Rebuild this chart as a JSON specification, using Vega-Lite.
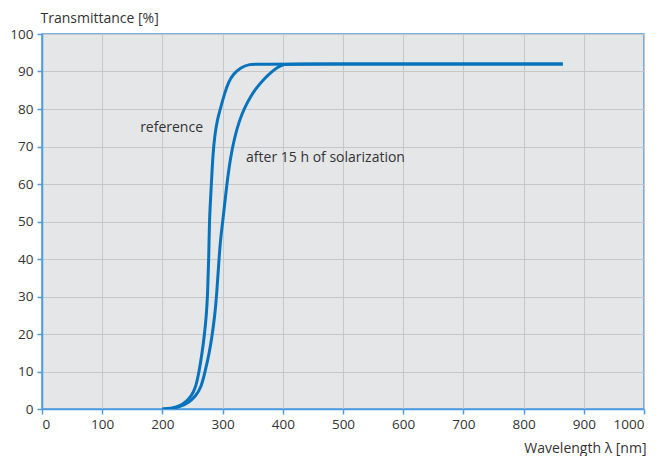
{
  "$schema": "https://vega.github.io/schema/vega-lite/v6.json",
  "width": 602,
  "height": 375,
  "autosize": {"type": "none"},
  "padding": {"left": 42, "top": 34, "right": 19, "bottom": 47},
  "background": "white",
  "config": {
    "view": {"stroke": "#4f9be0", "strokeWidth": 1.5, "fill": "#e5e6e8"},
    "font": "Open Sans",
    "axis": {
      "gridColor": "#c6c7c9",
      "gridWidth": 1,
      "domainColor": "#4f9be0",
      "domainWidth": 1.5,
      "tickColor": "#4f9be0",
      "tickWidth": 1.5,
      "tickSize": 5,
      "labelFont": "Open Sans",
      "labelFontSize": 13.5,
      "labelColor": "#333333",
      "labelOverlap": false,
      "titleFont": "Open Sans",
      "titleFontSize": 14,
      "titleFontWeight": "normal",
      "titleColor": "#333333"
    }
  },
  "datasets": {
    "curves": [
      {"series": "reference", "wavelength": 200, "t": 0},
      {"series": "reference", "wavelength": 215, "t": 0.1},
      {"series": "reference", "wavelength": 228, "t": 0.7},
      {"series": "reference", "wavelength": 240, "t": 2},
      {"series": "reference", "wavelength": 248, "t": 3.5},
      {"series": "reference", "wavelength": 255, "t": 5.5},
      {"series": "reference", "wavelength": 261, "t": 10},
      {"series": "reference", "wavelength": 266, "t": 15},
      {"series": "reference", "wavelength": 270, "t": 20},
      {"series": "reference", "wavelength": 273, "t": 25},
      {"series": "reference", "wavelength": 275, "t": 30},
      {"series": "reference", "wavelength": 277, "t": 40},
      {"series": "reference", "wavelength": 278, "t": 50},
      {"series": "reference", "wavelength": 280, "t": 56},
      {"series": "reference", "wavelength": 282, "t": 62},
      {"series": "reference", "wavelength": 284, "t": 68},
      {"series": "reference", "wavelength": 287, "t": 73},
      {"series": "reference", "wavelength": 291, "t": 77},
      {"series": "reference", "wavelength": 297, "t": 80.5},
      {"series": "reference", "wavelength": 303, "t": 84},
      {"series": "reference", "wavelength": 310, "t": 87.3},
      {"series": "reference", "wavelength": 318, "t": 89.3},
      {"series": "reference", "wavelength": 329, "t": 91},
      {"series": "reference", "wavelength": 345, "t": 92},
      {"series": "reference", "wavelength": 360, "t": 92},
      {"series": "reference", "wavelength": 865, "t": 92},
      {"series": "solarized", "wavelength": 200, "t": 0},
      {"series": "solarized", "wavelength": 215, "t": 0.1},
      {"series": "solarized", "wavelength": 229, "t": 0.6},
      {"series": "solarized", "wavelength": 245, "t": 1.8},
      {"series": "solarized", "wavelength": 255, "t": 3.5},
      {"series": "solarized", "wavelength": 264, "t": 5.5},
      {"series": "solarized", "wavelength": 271, "t": 10},
      {"series": "solarized", "wavelength": 278, "t": 15},
      {"series": "solarized", "wavelength": 283, "t": 20},
      {"series": "solarized", "wavelength": 287, "t": 25},
      {"series": "solarized", "wavelength": 290, "t": 30},
      {"series": "solarized", "wavelength": 294, "t": 40},
      {"series": "solarized", "wavelength": 297, "t": 46},
      {"series": "solarized", "wavelength": 301, "t": 51},
      {"series": "solarized", "wavelength": 307, "t": 60},
      {"series": "solarized", "wavelength": 313, "t": 67},
      {"series": "solarized", "wavelength": 320, "t": 72.5},
      {"series": "solarized", "wavelength": 328, "t": 77},
      {"series": "solarized", "wavelength": 337, "t": 80.5},
      {"series": "solarized", "wavelength": 347, "t": 83.5},
      {"series": "solarized", "wavelength": 358, "t": 86},
      {"series": "solarized", "wavelength": 370, "t": 88.2},
      {"series": "solarized", "wavelength": 382, "t": 90},
      {"series": "solarized", "wavelength": 392, "t": 91.2},
      {"series": "solarized", "wavelength": 402, "t": 92},
      {"series": "solarized", "wavelength": 415, "t": 92},
      {"series": "solarized", "wavelength": 865, "t": 92}
    ],
    "labels": [
      {"wavelength": 163, "t": 75, "text": "reference"},
      {"wavelength": 339, "t": 67, "text": "after 15 h of solarization"}
    ]
  },
  "encoding": {
    "x": {
      "field": "wavelength", "type": "quantitative",
      "scale": {"domain": [0, 1000], "nice": false},
      "axis": {
        "values": [0, 100, 200, 300, 400, 500, 600, 700, 800, 900, 1000],
        "format": "d",
        "title": "Wavelength λ [nm]",
        "titleAnchor": "end", "titleAlign": "right", "titleBaseline": "alphabetic",
        "titleX": 604, "titleY": 43,
        "labelPadding": 3
      }
    },
    "y": {
      "field": "t", "type": "quantitative",
      "scale": {"domain": [0, 100], "nice": false},
      "axis": {
        "values": [0, 10, 20, 30, 40, 50, 60, 70, 80, 90, 100],
        "format": "d",
        "title": "Transmittance [%]",
        "titleAngle": 0, "titleAlign": "left", "titleBaseline": "alphabetic",
        "titleX": -2, "titleY": -12,
        "labelPadding": 4
      }
    }
  },
  "layer": [
    {
      "data": {"name": "curves"},
      "mark": {"type": "line", "color": "#0873bd", "strokeWidth": 3, "interpolate": "basis", "clip": true},
      "encoding": {
        "detail": {"field": "series"}
      }
    },
    {
      "data": {"name": "labels"},
      "mark": {"type": "text", "align": "left", "baseline": "middle", "fontSize": 14, "color": "#333333", "font": "Open Sans"},
      "encoding": {
        "text": {"field": "text"}
      }
    }
  ]
}
